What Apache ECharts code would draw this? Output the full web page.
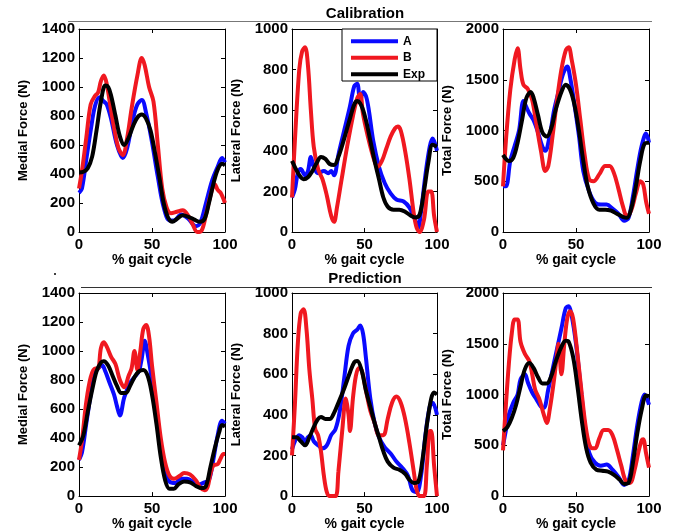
<!DOCTYPE html>
<html>
<head>
<meta charset="utf-8">
<script src="https://cdn.jsdelivr.net/npm/echarts@6/dist/echarts.min.js"></script>
<style>
  html, body { margin: 0; padding: 0; background: #fff; }
  #chart { width: 674px; height: 532px; }
</style>
</head>
<body>
<div id="chart"></div>
<script>
// % gait cycle vs force (N)
var seriesNames = ['A', 'B', 'Exp']
var xTicks = [0, 50, 100]

// Calibration
var medCalA = [[0,270],[2,300],[5,500],[8,700],[11,870],[14,930],[17,900],[19,880],[22,780],[26,600],[30,510],[33,580],[37,780],[40,880],[43,910],[46,820],[50,620],[54,380],[58,170],[62,80],[65,80],[70,120],[75,90],[80,40],[83,60],[87,200],[91,350],[95,450],[98,510],[100,480]]
var medCalB = [[0,300],[2,420],[5,650],[8,880],[11,940],[13,960],[15,1040],[17,1080],[19,1020],[21,900],[24,720],[27,580],[30,530],[33,650],[36,850],[40,1080],[43,1200],[45,1150],[48,1000],[51,900],[54,600],[57,300],[60,170],[63,130],[67,140],[71,150],[75,110],[78,50],[81,0],[84,10],[87,120],[90,250],[93,330],[95,290],[97,270],[100,200]]
var medCalExp = [[0,410],[3,415],[6,440],[9,520],[12,700],[15,900],[18,1010],[20,1000],[22,940],[25,800],[28,660],[31,600],[34,650],[37,730],[40,790],[43,810],[46,780],[49,700],[52,550],[55,380],[58,200],[61,100],[64,70],[67,90],[71,115],[75,105],[79,85],[83,70],[86,90],[89,200],[92,330],[95,430],[98,470],[100,460]]

var latCalA = [[0,170],[2,210],[4,290],[6,310],[9,280],[11,300],[13,370],[15,320],[18,290],[22,300],[25,290],[27,300],[29,280],[32,380],[36,500],[40,620],[43,720],[45,730],[47,640],[49,690],[51,670],[53,600],[56,450],[60,320],[64,240],[68,190],[72,160],[77,150],[81,120],[85,60],[87,20],[89,100],[92,280],[95,420],[97,460],[100,400]]
var latCalB = [[0,170],[2,450],[5,800],[7,890],[9,910],[11,820],[13,600],[15,420],[18,310],[21,260],[24,180],[27,80],[29,50],[31,120],[34,250],[38,420],[42,570],[45,660],[47,680],[49,580],[52,480],[56,370],[59,320],[62,350],[65,410],[68,470],[71,510],[73,520],[75,500],[78,400],[81,260],[84,90],[86,20],[88,0],[91,60],[94,200],[96,200],[98,80],[100,0]]
var latCalExp = [[0,350],[2,320],[5,280],[8,260],[11,270],[14,300],[17,340],[20,370],[23,360],[26,335],[29,330],[32,370],[36,460],[40,560],[43,630],[45,645],[48,620],[51,550],[54,450],[57,350],[60,260],[63,170],[66,125],[70,110],[74,110],[78,100],[82,80],[85,72],[88,85],[91,200],[94,340],[97,430],[100,420]]

var totCalA = [[0,450],[2,450],[5,700],[8,850],[11,1000],[14,1290],[16,1230],[18,1170],[21,1100],[24,980],[27,840],[29,800],[32,950],[35,1200],[38,1380],[41,1550],[44,1630],[46,1520],[49,1250],[52,950],[55,600],[59,400],[63,290],[67,270],[71,270],[75,230],[79,180],[83,110],[86,140],[89,350],[92,620],[95,850],[98,970],[100,880]]
var totCalB = [[0,450],[2,900],[5,1400],[8,1700],[10,1810],[12,1600],[14,1450],[17,1410],[20,1300],[23,1050],[26,800],[29,600],[31,650],[34,950],[37,1300],[40,1600],[43,1790],[45,1820],[47,1700],[50,1450],[53,1100],[56,750],[59,520],[62,500],[66,570],[70,650],[73,650],[76,580],[79,430],[82,260],[85,150],[88,220],[91,380],[94,500],[96,470],[98,300],[100,180]]
var totCalExp = [[0,760],[2,720],[4,700],[7,730],[10,880],[13,1100],[16,1320],[19,1380],[21,1320],[24,1150],[27,980],[30,940],[33,1020],[36,1200],[40,1380],[43,1450],[46,1400],[49,1250],[52,1000],[55,700],[58,450],[62,280],[66,220],[70,220],[74,210],[78,180],[82,150],[85,140],[88,240],[91,450],[94,700],[97,870],[100,880]]

// Prediction
var medPreA = [[0,250],[2,300],[5,500],[8,700],[11,850],[14,890],[16,900],[18,860],[21,780],[24,700],[26,620],[28,555],[31,680],[35,780],[38,820],[41,860],[43,950],[45,1070],[47,980],[50,800],[53,600],[56,350],[59,170],[62,100],[66,90],[70,120],[74,120],[78,100],[82,80],[86,95],[89,110],[92,250],[95,420],[98,520],[100,500]]
var medPreB = [[0,250],[2,380],[5,650],[8,820],[11,880],[13,880],[15,1020],[17,1060],[19,1030],[22,960],[25,910],[28,800],[31,750],[34,830],[36,880],[38,1000],[40,870],[42,1000],[44,1150],[46,1180],[48,1100],[50,900],[53,650],[56,400],[59,230],[62,140],[65,120],[69,140],[72,160],[76,150],[80,110],[83,60],[86,40],[88,60],[90,150],[92,210],[95,220],[97,260],[99,290],[100,290]]
var medPreExp = [[0,350],[3,420],[6,580],[9,730],[12,860],[15,920],[17,930],[20,900],[23,830],[26,760],[29,710],[32,710],[35,760],[38,820],[41,860],[44,870],[47,830],[50,700],[53,500],[56,270],[59,110],[62,50],[65,50],[68,80],[72,100],[76,95],[80,70],[84,55],[87,70],[90,200],[93,330],[96,440],[98,490],[100,480]]

var latPreA = [[0,230],[2,270],[5,300],[7,290],[9,270],[11,290],[13,300],[15,270],[18,250],[21,235],[24,250],[27,300],[30,330],[33,420],[36,580],[39,740],[42,800],[45,820],[47,840],[49,800],[51,680],[54,480],[57,360],[60,290],[64,240],[68,210],[72,170],[76,140],[80,100],[83,30],[86,20],[89,100],[92,300],[95,440],[97,460],[100,400]]
var latPreB = [[0,200],[2,450],[4,750],[6,900],[8,920],[10,820],[12,620],[14,480],[16,330],[18,300],[20,220],[22,100],[24,20],[26,0],[30,0],[32,120],[35,350],[37,480],[39,400],[40,320],[42,480],[44,590],[46,630],[48,620],[51,520],[54,420],[57,360],[60,300],[63,300],[66,380],[69,460],[72,490],[75,460],[78,380],[81,260],[84,120],[86,30],[88,0],[91,0],[93,150],[95,320],[96,320],[98,150],[100,0]]
var latPreExp = [[0,290],[3,290],[6,270],[9,250],[12,290],[15,340],[18,380],[20,390],[23,380],[26,380],[29,410],[32,460],[36,530],[40,610],[43,660],[45,665],[48,620],[51,520],[54,440],[57,360],[60,290],[63,220],[66,170],[70,140],[74,130],[78,110],[81,80],[84,65],[87,70],[90,180],[93,350],[96,480],[98,510],[100,500]]

var totPreA = [[0,500],[2,650],[4,800],[7,920],[10,1000],[12,1150],[15,1200],[17,1120],[20,1020],[23,950],[26,880],[28,870],[31,1050],[34,1250],[37,1450],[40,1650],[43,1850],[45,1870],[47,1780],[50,1500],[53,1100],[56,700],[59,430],[63,330],[67,300],[71,310],[75,260],[79,190],[83,110],[86,150],[89,400],[92,700],[95,930],[97,1000],[100,900]]
var totPreB = [[0,450],[2,900],[4,1300],[6,1600],[8,1740],[10,1740],[12,1520],[15,1400],[18,1330],[20,1200],[22,1050],[25,950],[28,800],[30,720],[32,850],[35,1150],[37,1400],[38,1500],[40,1200],[42,1500],[44,1750],[46,1820],[48,1750],[51,1400],[54,1000],[57,650],[60,480],[63,470],[66,570],[69,650],[72,650],[75,600],[78,460],[81,300],[84,150],[87,130],[90,250],[93,450],[95,550],[96,560],[98,420],[100,280]]
var totPreExp = [[0,640],[3,680],[6,770],[9,900],[12,1080],[15,1250],[18,1310],[21,1260],[24,1170],[27,1110],[30,1110],[33,1180],[36,1320],[40,1470],[43,1530],[45,1520],[48,1370],[51,1080],[54,740],[57,470],[60,330],[64,260],[68,250],[72,240],[76,210],[80,160],[83,120],[86,130],[89,330],[92,620],[95,850],[98,990],[100,980]]

var colors = ['#0a0aff', '#f01820', '#000000']
var font = 'Liberation Sans, Arial, Helvetica, sans-serif'

var panels = [
  { grid: { left: 79, top: 29, width: 146, height: 203 }, yName: 'Medial Force (N)', max: 1400, interval: 200, data: [medCalA, medCalB, medCalExp] },
  { grid: { left: 292, top: 29, width: 145, height: 203 }, yName: 'Lateral Force (N)', max: 1000, interval: 200, data: [latCalA, latCalB, latCalExp] },
  { grid: { left: 503, top: 29, width: 146, height: 203 }, yName: 'Total Force (N)', max: 2000, interval: 500, data: [totCalA, totCalB, totCalExp] },
  { grid: { left: 79, top: 293, width: 146, height: 204 }, yName: 'Medial Force (N)', max: 1400, interval: 200, data: [medPreA, medPreB, medPreExp] },
  { grid: { left: 292, top: 293, width: 145, height: 204 }, yName: 'Lateral Force (N)', max: 1000, interval: 200, data: [latPreA, latPreB, latPreExp] },
  { grid: { left: 503, top: 293, width: 146, height: 204 }, yName: 'Total Force (N)', max: 2000, interval: 500, data: [totPreA, totPreB, totPreExp] },
]

var myChart = echarts.init(document.getElementById('chart'), null, { renderer: 'canvas' })

var grids = [], xAxes = [], yAxes = [], series = []
var lineStyle = { color: '#000', width: 1 }
var tickStyle = { show: true, inside: true, length: 4, lineStyle: lineStyle }
var plain = function (v) { return String(v) }

panels.forEach(function (p, i) {
  grids.push(p.grid)
  // bottom + top x axes (box with mirrored ticks)
  xAxes.push({
    type: 'value', gridIndex: i, min: 0, max: 100, interval: 50, position: 'bottom',
    name: '% gait cycle', nameLocation: 'middle', nameGap: 19,
    nameTextStyle: { fontFamily: font, fontWeight: 'bold', fontSize: 14, color: '#000' },
    axisLine: { show: true, onZero: false, lineStyle: lineStyle },
    axisTick: tickStyle,
    axisLabel: { fontFamily: font, fontWeight: 'bold', fontSize: 15, color: '#000', margin: 5, formatter: plain },
    splitLine: { show: false },
  })
  xAxes.push({
    type: 'value', gridIndex: i, min: 0, max: 100, interval: 50, position: 'top',
    axisLine: { show: true, onZero: false, lineStyle: lineStyle },
    axisTick: tickStyle, axisLabel: { show: false }, splitLine: { show: false },
  })
  yAxes.push({
    type: 'value', gridIndex: i, min: 0, max: p.max, interval: p.interval, position: 'left',
    name: p.yName, nameLocation: 'middle', nameGap: 49,
    nameTextStyle: { fontFamily: font, fontWeight: 'bold', fontSize: 13, color: '#000' },
    axisLine: { show: true, onZero: false, lineStyle: lineStyle },
    axisTick: tickStyle,
    axisLabel: { fontFamily: font, fontWeight: 'bold', fontSize: 15, color: '#000', margin: 4, formatter: plain },
    splitLine: { show: false },
  })
  yAxes.push({
    type: 'value', gridIndex: i, min: 0, max: p.max, interval: p.interval, position: 'right',
    axisLine: { show: true, onZero: false, lineStyle: lineStyle },
    axisTick: tickStyle, axisLabel: { show: false }, splitLine: { show: false },
  })
  p.data.forEach(function (d, k) {
    series.push({
      name: seriesNames[k],
      type: 'line',
      xAxisIndex: i * 2,
      yAxisIndex: i * 2,
      data: d,
      smooth: 0.35,
      showSymbol: false,
      clip: true,
      silent: true,
      lineStyle: { color: colors[k], width: 4 },
      itemStyle: { color: colors[k] },
      z: 2 + k,
    })
  })
})

var option = {
  backgroundColor: '#fff',
  animation: false,
  grid: grids,
  xAxis: xAxes,
  yAxis: yAxes,
  legend: {
    data: seriesNames,
    orient: 'vertical',
    left: 351,
    top: 34,
    padding: 0,
    itemWidth: 47,
    itemHeight: 4,
    itemGap: 2,
    icon: 'rect',
    textStyle: { fontFamily: font, fontWeight: 'bold', fontSize: 12, color: '#000', lineHeight: 14.5 },
    z: 20,
  },
  graphic: [
    // legend box
    { type: 'rect', shape: { x: 342, y: 29, width: 95, height: 52 }, style: { fill: '#fff', stroke: '#000', lineWidth: 1 }, z: 10 },
    // section headers
    { type: 'line', shape: { x1: 68, y1: 21.5, x2: 652, y2: 21.5 }, style: { stroke: '#777', lineWidth: 1 } },
    { type: 'text', x: 365, y: 14, style: { text: 'Calibration', fontFamily: font, fontWeight: 'bold', fontSize: 15, fill: '#000', textAlign: 'center', textVerticalAlign: 'middle' } },
    { type: 'line', shape: { x1: 81, y1: 287.5, x2: 652, y2: 287.5 }, style: { stroke: '#333', lineWidth: 1 } },
    { type: 'text', x: 365, y: 279, style: { text: 'Prediction', fontFamily: font, fontWeight: 'bold', fontSize: 15, fill: '#000', textAlign: 'center', textVerticalAlign: 'middle' } },
    { type: 'circle', shape: { cx: 55, cy: 274, r: 1 }, style: { fill: '#000' } },
  ],
  series: series,
}

myChart.setOption(option)
</script>
</body>
</html>
